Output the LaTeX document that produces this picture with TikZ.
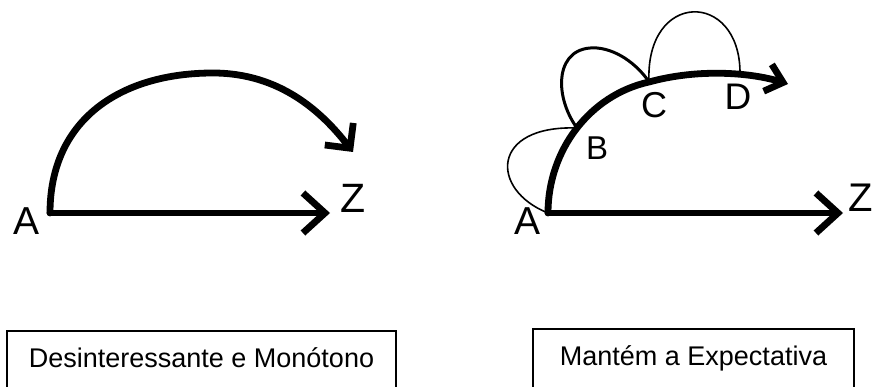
\documentclass[tikz,border=0pt]{standalone}
\usepackage{fontspec}
\setmainfont{Liberation Sans}
\usetikzlibrary{arrows.meta}
\begin{document}
\begin{tikzpicture}[x=1pt,y=-1pt,
  thickline/.style={line width=6.8pt, line cap=round, line join=round},
  thinloop/.style={line width=1.6pt},
  midloop/.style={line width=3pt},
  barbH/.style={-{Straight Barb[length=22pt,width=40pt]}},
  barbA/.style={-{Straight Barb[length=18pt,width=36pt]}},
  barbB/.style={-{Straight Barb[length=16pt,width=28pt]}},
  lab/.style={inner sep=0pt, anchor=center},
  caption/.style={draw, line width=1.4pt, inner sep=0pt, anchor=base,
    text height=36pt, text depth=40pt, align=center,
    font=\fontsize{27}{30}\selectfont}
]
\useasboundingbox (0,0) rectangle (875,387);
\clip (0,0) rectangle (875,387);

% ---------- left diagram ----------
\coordinate (cA1) at (50,213);
\coordinate (tZ1) at (330,213);
\coordinate (top1) at (213,73);
\coordinate (tArc1) at (353,152);
\node[lab, font=\fontsize{39}{39}\selectfont] (A1) at (27,221) {A};
\node[lab, font=\fontsize{41}{41}\selectfont] (Z1) at (353,198) {Z};

\draw[thickline, barbH] (cA1) -- (tZ1);
\draw[thickline, barbA] (cA1) .. controls (50,120) and (120,73) .. (top1)
  .. controls (280,73) and (322,112) .. (tArc1);

% ---------- right diagram ----------
\coordinate (cA2) at (548,213);
\coordinate (tZ2) at (843,213);
\coordinate (pB) at (577,128);
\coordinate (pC) at (649,82);
\coordinate (pD) at (740,73);
\coordinate (tArc2) at (788,84);
\node[lab, font=\fontsize{39}{39}\selectfont] (A2) at (527,221) {A};
\node[lab, font=\fontsize{40}{40}\selectfont] (Z2) at (861,198) {Z};
\node[lab, font=\fontsize{33}{33}\selectfont] (B) at (597,148) {B};
\node[lab, font=\fontsize{36}{36}\selectfont] (C) at (654,105) {C};
\node[lab, font=\fontsize{37}{37}\selectfont] (D) at (738,97) {D};

\draw[thickline, barbH] (cA2) -- (tZ2);
\draw[thickline, barbB] (cA2) .. controls (548,150) and (590,95) .. (pC)
  .. controls (700,68) and (752,73) .. (tArc2);

% loops
\draw[thinloop] (pB) .. controls (490,125) and (490,190) .. (cA2);
\draw[midloop] (pB) .. controls (553,95) and (555,45) .. (597,48)
  .. controls (620,50) and (640,68) .. (pC);
\draw[thinloop] (pC) .. controls (645,-10) and (740,-10) .. (pD);

% ---------- captions ----------
\node[caption, minimum width=389pt] (cap1) at (201.5,367) {Desinteressante e Monótono};
\node[caption, minimum width=321pt] (cap2) at (693.5,365) {Mantém a Expectativa};
\end{tikzpicture}
\end{document}
